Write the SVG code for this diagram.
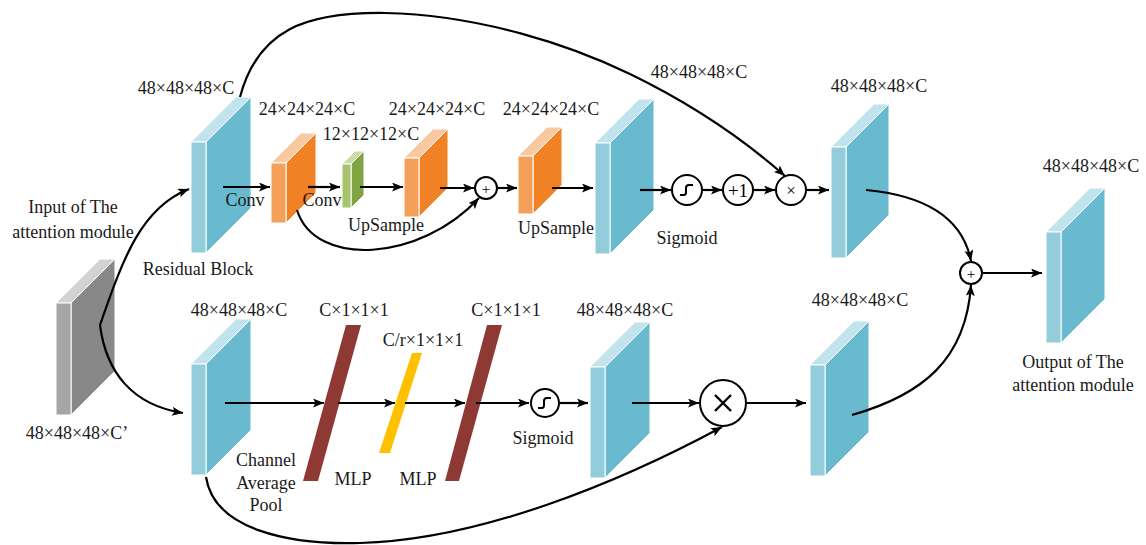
<svg xmlns="http://www.w3.org/2000/svg" width="1146" height="545" viewBox="0 0 1146 545">
  <defs>
    <marker id="arrow" markerUnits="userSpaceOnUse" markerWidth="12" markerHeight="10" refX="11" refY="4.5" orient="auto">
      <path d="M0,0 L11,4.5 L0,9 L2.5,4.5 z" fill="#000"/>
    </marker>
    <style>
      .lbl { font-family: "Liberation Serif", "Times New Roman", serif; font-size: 18px; fill: #1a1a1a; text-anchor: middle; }
      .sym { font-family: "Liberation Serif", "Times New Roman", serif; fill: #000; text-anchor: middle; }
      .blk polygon, .blk rect { stroke: #fff; stroke-width: 1; }
      .blue .f { fill: #93CDDC; } .blue .s { fill: #69BACF; } .blue .t { fill: #C1E3EC; }
      .orange .f { fill: #F5A05A; } .orange .s { fill: #F08124; } .orange .t { fill: #F9C9A1; }
      .green .f { fill: #A6C56C; } .green .s { fill: #7FA441; } .green .t { fill: #CADDAB; }
      .gray .f { fill: #A6A6A6; } .gray .s { fill: #888888; } .gray .t { fill: #D2D2D2; }
      .wire { fill: none; stroke: #000; stroke-width: 2.2; }
      .arr { marker-end: url(#arrow); }
      .op { fill: #fff; stroke: #000; stroke-width: 2; }
    </style>
  </defs>
  <rect width="1146" height="545" fill="#fff"/>

  <!-- feature-map slabs: front face, side face, top face -->
  <g id="input" class="blk gray">
    <polygon class="s" points="71,303 115,259 115,371 71,415"/>
    <polygon class="t" points="56,303 71,303 115,259 100,259"/>
    <rect class="f" x="56" y="303" width="15" height="112"/>
  </g>
  <g id="residual-block" class="blk blue">
    <polygon class="s" points="206,142 251,97 251,208 206,253"/>
    <polygon class="t" points="191,142 206,142 251,97 236,97"/>
    <rect class="f" x="191" y="142" width="15" height="111"/>
  </g>
  <g id="conv1" class="blk orange">
    <polygon class="s" points="286,163 316,133 316,193 286,223"/>
    <polygon class="t" points="271,163 286,163 316,133 301,133"/>
    <rect class="f" x="271" y="163" width="15" height="60"/>
  </g>
  <g id="conv2" class="blk green">
    <polygon class="s" points="351,164 364,151 364,195 351,208"/>
    <polygon class="t" points="342,164 351,164 364,151 355,151"/>
    <rect class="f" x="342" y="164" width="9" height="44"/>
  </g>
  <g id="upsample1" class="blk orange">
    <polygon class="s" points="419,158 448,129 448,188 419,217"/>
    <polygon class="t" points="404,158 419,158 448,129 433,129"/>
    <rect class="f" x="404" y="158" width="15" height="59"/>
  </g>
  <g id="upsample2" class="blk orange">
    <polygon class="s" points="533,156 562,127 562,185 533,214"/>
    <polygon class="t" points="518,156 533,156 562,127 547,127"/>
    <rect class="f" x="518" y="156" width="15" height="58"/>
  </g>
  <g id="mask-map" class="blk blue">
    <polygon class="s" points="610,143 654,99 654,210 610,254"/>
    <polygon class="t" points="595,143 610,143 654,99 639,99"/>
    <rect class="f" x="595" y="143" width="15" height="111"/>
  </g>
  <g id="spatial-out" class="blk blue">
    <polygon class="s" points="846,147 889,104 889,215 846,258"/>
    <polygon class="t" points="831,147 846,147 889,104 874,104"/>
    <rect class="f" x="831" y="147" width="15" height="111"/>
  </g>
  <g id="output" class="blk blue">
    <polygon class="s" points="1061,232 1105,188 1105,299 1061,343"/>
    <polygon class="t" points="1046,232 1061,232 1105,188 1090,188"/>
    <rect class="f" x="1046" y="232" width="15" height="111"/>
  </g>
  <g id="channel-in" class="blk blue">
    <polygon class="s" points="206,364 251,319 251,430 206,475"/>
    <polygon class="t" points="191,364 206,364 251,319 236,319"/>
    <rect class="f" x="191" y="364" width="15" height="111"/>
  </g>
  <g id="channel-weights" class="blk blue">
    <polygon class="s" points="605,367 650,322 650,433 605,478"/>
    <polygon class="t" points="590,367 605,367 650,322 635,322"/>
    <rect class="f" x="590" y="367" width="15" height="111"/>
  </g>
  <g id="channel-out" class="blk blue">
    <polygon class="s" points="825,365 869,321 869,432 825,476"/>
    <polygon class="t" points="810,365 825,365 869,321 854,321"/>
    <rect class="f" x="810" y="365" width="15" height="111"/>
  </g>

  <!-- MLP vectors -->
  <g id="vec-pool">
    <polygon points="346,325 361,325 318,481 303,481" fill="#8E3933"/>
  </g>
  <g id="vec-reduce">
    <polygon points="412,353 422,353 390,453 379,453" fill="#FFC000"/>
  </g>
  <g id="vec-expand">
    <polygon points="487,325 502,325 459,481 445,481" fill="#8E3933"/>
  </g>

  <!-- connectors -->
  <g id="connectors">
    <!-- split from input -->
    <path class="wire arr" d="M100,325 C122,262 140,208 189,189"/>
    <path class="wire arr" d="M100,325 C106,372 132,405 183,413"/>
    <!-- spatial branch -->
    <path class="wire arr" d="M223,187 L270,187"/>
    <path class="wire arr" d="M308,187 L340,187"/>
    <path class="wire arr" d="M360,187 L403,187"/>
    <path class="wire arr" d="M440,188 L474,188"/>
    <path class="wire arr" d="M297,210 C315,268 420,262 479,198"/>
    <path class="wire arr" d="M498,188 L517,188"/>
    <path class="wire arr" d="M552,188 L593,188"/>
    <path class="wire arr" d="M640,190 L671,190"/>
    <path class="wire arr" d="M702,190 L722,190"/>
    <path class="wire arr" d="M753,190 L775,190"/>
    <path class="wire arr" d="M806,190 L829,190"/>
    <path class="wire arr" d="M240,97 C258,30 305,12 385,13 C480,15 570,45 630,74 C700,108 750,145 785,176"/>
    <!-- channel branch -->
    <path class="wire arr" d="M225,403 L324,403"/>
    <path class="wire arr" d="M338,403 L395,403"/>
    <path class="wire arr" d="M405,403 L465,403"/>
    <path class="wire arr" d="M476,403 L529,403"/>
    <path class="wire arr" d="M560,403 L588,403"/>
    <path class="wire arr" d="M632,403 L699,403"/>
    <path class="wire arr" d="M747,403 L806,403"/>
    <path class="wire arr" d="M206,477 C214,530 290,545 360,543 C480,540 620,482 722,427"/>
    <!-- merge -->
    <path class="wire arr" d="M866,190 C920,195 962,215 971,261"/>
    <path class="wire arr" d="M852,415 C922,395 966,360 971,285"/>
    <path class="wire arr" d="M983,273 L1042,273"/>
  </g>

  <!-- operators -->
  <g id="add-skip">
    <circle class="op" cx="486" cy="188" r="11"/>
    <text class="sym" x="486" y="193.5" font-size="15">+</text>
  </g>
  <g id="sigmoid-top">
    <circle class="op" cx="687" cy="190" r="15"/>
    <path d="M680,195 L684,195 Q686,195 686,192 L686,188 Q686,185 689,185 L693,185" fill="none" stroke="#000" stroke-width="2"/>
  </g>
  <g id="plus-one">
    <circle class="op" cx="738" cy="190" r="15"/>
    <text class="sym" x="738" y="196.5" font-size="19">+1</text>
  </g>
  <g id="mul-top">
    <circle class="op" cx="791" cy="190" r="15"/>
    <text class="sym" x="791" y="196" font-size="17">×</text>
  </g>
  <g id="sigmoid-bottom">
    <circle class="op" cx="545" cy="403" r="14"/>
    <path d="M538,408 L542,408 Q544,408 544,405 L544,401 Q544,398 547,398 L551,398" fill="none" stroke="#000" stroke-width="2"/>
  </g>
  <g id="mul-bottom">
    <circle class="op" cx="723" cy="403" r="23"/>
    <path d="M715,395 L731,411 M731,395 L715,411" stroke="#000" stroke-width="2.4"/>
  </g>
  <g id="add-final">
    <circle class="op" cx="971" cy="273" r="11"/>
    <text class="sym" x="971" y="278.5" font-size="15">+</text>
  </g>

  <!-- labels -->
  <g id="labels">
    <text class="lbl" x="73" y="213">Input of The</text>
    <text class="lbl" x="73" y="238">attention module</text>
    <text class="lbl" x="77" y="439">48×48×48×C’</text>
    <text class="lbl" x="186" y="94">48×48×48×C</text>
    <text class="lbl" x="198" y="275">Residual Block</text>
    <text class="lbl" x="307" y="115">24×24×24×C</text>
    <text class="lbl" x="371" y="140">12×12×12×C</text>
    <text class="lbl" x="437" y="115">24×24×24×C</text>
    <text class="lbl" x="551" y="115">24×24×24×C</text>
    <text class="lbl" x="699" y="78">48×48×48×C</text>
    <text class="lbl" x="879" y="92">48×48×48×C</text>
    <text class="lbl" x="1091" y="172">48×48×48×C</text>
    <text class="lbl" x="245" y="206">Conv</text>
    <text class="lbl" x="322" y="206">Conv</text>
    <text class="lbl" x="386" y="231">UpSample</text>
    <text class="lbl" x="556" y="234">UpSample</text>
    <text class="lbl" x="687" y="244">Sigmoid</text>
    <text class="lbl" x="1073" y="368">Output of The</text>
    <text class="lbl" x="1073" y="391">attention module</text>
    <text class="lbl" x="239" y="316">48×48×48×C</text>
    <text class="lbl" x="354" y="316">C×1×1×1</text>
    <text class="lbl" x="423" y="346">C/r×1×1×1</text>
    <text class="lbl" x="506" y="316">C×1×1×1</text>
    <text class="lbl" x="266" y="466">Channel</text>
    <text class="lbl" x="266" y="489">Average</text>
    <text class="lbl" x="266" y="511">Pool</text>
    <text class="lbl" x="353" y="485">MLP</text>
    <text class="lbl" x="418" y="485">MLP</text>
    <text class="lbl" x="625" y="316">48×48×48×C</text>
    <text class="lbl" x="543" y="444">Sigmoid</text>
    <text class="lbl" x="860" y="306">48×48×48×C</text>
  </g>
</svg>
